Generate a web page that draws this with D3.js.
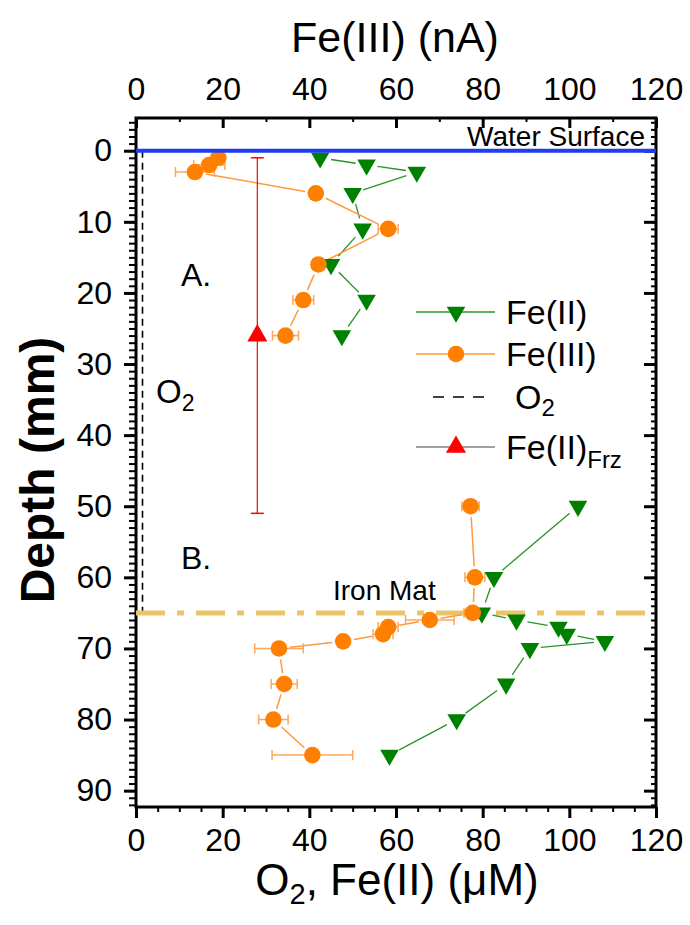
<!DOCTYPE html>
<html><head><meta charset="utf-8">
<script src="https://cdn.jsdelivr.net/npm/d3@7"></script>
<style>body{margin:0;background:#fff} svg{display:block;font-family:"Liberation Sans",Arial,sans-serif}</style>
</head><body><svg id="c" width="690" height="925"></svg>
<script>
// ---- data ----
const xTicks=[0,20,40,60,80,100,120];
const yTicks=[0,10,20,30,40,50,60,70,80,90];
const fe2DepthA=[1,2,3,6,11,16,21,26];
const fe2ValueA=[42.5,53.2,64.8,50,52.3,45,53.2,47.5];
const fe2DepthB=[50,60,65,66,67,68,69,70,75,80,85];
const fe2ValueB=[102,82.6,79.8,87.8,97.5,99.4,108.2,90.9,85.4,74,58.5];
const fe3DepthA=[1,2,3,6,11,16,21,26];
const fe3ValueA=[19,16.9,13.6,41.5,58.2,42.1,38.6,34.5];
const fe3ErrA=[1,3.6,4.5,0,2.3,1.2,2.4,3];
const fe3DepthB=[50,60,65,66,67,68,69,70,75,80,85];
const fe3ValueB=[77.2,78.2,77.7,67.8,58.2,57,47.8,33,34.2,31.7,40.7];
const fe3ErrB=[2,2.3,2,5.6,2.3,2.3,0,5.6,3,3.4,9.3];
const frzDepth=[26], frzValue=[28], frzErr=[25];
const o2Depth=[0,65], o2Value=[1.5,1.5];
const waterDepth=0, ironMatDepth=65;
const legendLabels=["Fe(II)","Fe(III)","O","Fe(II)"];

// ---- setup ----
const svg=d3.select("#c");
const L=136,R=656,T=118,B=807;
const x=d3.scaleLinear([0,120],[L,R]);
const xTop=d3.scaleLinear([0,120],[L,R]);
const y=d3.scaleLinear([-4.6,92.3],[T,B]);
const GREEN="#008000",GLINE="#2a922a",ORANGE="#FF8000",OLINE="#FF9A3C",OERR="#FFA65A",RED="#FF0000";

function styleAxis(g,sw){g.select(".domain").remove();g.selectAll("line").attr("stroke","#000").attr("stroke-width",sw);g.selectAll("text").attr("fill","#000").attr("font-size",32);}
// minor ticks
svg.append("g").attr("transform",`translate(0,${B})`).call(d3.axisBottom(x).tickValues(d3.range(0,121,5)).tickSize(5).tickFormat("")).call(g=>styleAxis(g,2));
svg.append("g").attr("transform",`translate(0,${T})`).call(d3.axisTop(xTop).tickValues(d3.range(0,121,10)).tickSize(-4).tickFormat("")).call(g=>styleAxis(g,2));
svg.append("g").attr("transform",`translate(${L},0)`).call(d3.axisLeft(y).tickValues(d3.range(-4,93,1)).tickSize(7).tickFormat("")).call(g=>styleAxis(g,2));
svg.append("g").attr("transform",`translate(${R},0)`).call(d3.axisRight(y).tickValues(d3.range(-4,93,1)).tickSize(-5).tickFormat("")).call(g=>styleAxis(g,2));
// major ticks
svg.append("g").attr("transform",`translate(0,${B})`).call(d3.axisBottom(x).tickValues(xTicks).tickSize(11).tickPadding(10)).call(g=>styleAxis(g,3));
svg.append("g").attr("transform",`translate(0,${T})`).call(d3.axisTop(xTop).tickValues(xTicks).tickSizeInner(-10).tickSizeOuter(0).tickPadding(18)).call(g=>styleAxis(g,3));
svg.append("g").attr("transform",`translate(${L},0)`).call(d3.axisLeft(y).tickValues(yTicks).tickSize(12).tickPadding(12)).call(g=>styleAxis(g,3));
svg.append("g").attr("transform",`translate(${R},0)`).call(d3.axisRight(y).tickValues(yTicks).tickSize(-12).tickFormat("")).call(g=>styleAxis(g,3));
// frame
svg.append("rect").attr("x",L).attr("y",T).attr("width",R-L).attr("height",B-T).attr("fill","none").attr("stroke","#000").attr("stroke-width",3);

// titles
svg.append("text").attr("x",395).attr("y",52).attr("text-anchor","middle").attr("font-size",43).text("Fe(III) (nA)");
const bt=svg.append("text").attr("x",397).attr("y",895).attr("text-anchor","middle").attr("font-size",44);
bt.append("tspan").text("O");bt.append("tspan").attr("font-size",29).attr("dy",9).text("2");bt.append("tspan").attr("dy",-9).text(", Fe(II) (μM)");
svg.append("text").attr("transform","translate(54,470) rotate(-90)").attr("text-anchor","middle").attr("font-size",48).attr("font-weight","bold").text("Depth (mm)");

// O2 dashed
const o2pts=o2Depth.map((d,i)=>[x(o2Value[i]),y(d)]);
svg.append("path").attr("d",d3.line()(o2pts)).attr("stroke","#000").attr("stroke-width",1.6).attr("stroke-dasharray","7,5").attr("fill","none");
// iron mat
svg.append("line").attr("x1",L).attr("x2",R).attr("y1",y(ironMatDepth)).attr("y2",y(ironMatDepth)).attr("stroke","#ECC468").attr("stroke-width",5).attr("stroke-dasharray","29,12,7,12");

// gapped connecting lines
function gapLines(pts,color,w,gap){
  for(let i=0;i<pts.length-1;i++){
    const [x1,y1]=pts[i],[x2,y2]=pts[i+1];const dx=x2-x1,dy=y2-y1,len=Math.hypot(dx,dy);
    if(len<=2*gap)continue;const ux=dx/len,uy=dy/len;
    svg.append("line").attr("x1",x1+ux*gap).attr("y1",y1+uy*gap).attr("x2",x2-ux*gap).attr("y2",y2-uy*gap).attr("stroke",color).attr("stroke-width",w);
  }
}
const fe2A=fe2DepthA.map((d,i)=>[x(fe2ValueA[i]),y(d)]);
const fe2B=fe2DepthB.map((d,i)=>[x(fe2ValueB[i]),y(d)]);
const fe3A=fe3DepthA.map((d,i)=>[xTop(fe3ValueA[i]),y(d)]);
const fe3B=fe3DepthB.map((d,i)=>[xTop(fe3ValueB[i]),y(d)]);
gapLines(fe2A,GLINE,1.3,11);gapLines(fe2B,GLINE,1.3,11);
gapLines(fe3A,OLINE,1.5,11);gapLines(fe3B,OLINE,1.5,11);

// error bars Fe(III) (horizontal)
function hErr(depths,vals,errs){
  depths.forEach((d,i)=>{const e=errs[i];if(!e)return;const yy=y(d),x1=xTop(vals[i]-e),x2=xTop(vals[i]+e);
    svg.append("line").attr("x1",x1).attr("x2",x2).attr("y1",yy).attr("y2",yy).attr("stroke",OERR).attr("stroke-width",1.5);
    [x1,x2].forEach(xx=>svg.append("line").attr("x1",xx).attr("x2",xx).attr("y1",yy-5).attr("y2",yy+5).attr("stroke",OERR).attr("stroke-width",1.5));});
}
hErr(fe3DepthA,fe3ValueA,fe3ErrA);hErr(fe3DepthB,fe3ValueB,fe3ErrB);
// Frz vertical error bar
frzDepth.forEach((d,i)=>{const xx=x(frzValue[i]),y1=y(d-frzErr[i]),y2=y(d+frzErr[i]);
  svg.append("line").attr("x1",xx).attr("x2",xx).attr("y1",y1).attr("y2",y2).attr("stroke",RED).attr("stroke-width",1.2);
  [y1,y2].forEach(yy=>svg.append("line").attr("x1",xx-6.5).attr("x2",xx+6.5).attr("y1",yy).attr("y2",yy).attr("stroke",RED).attr("stroke-width",1.5));});

// markers
const triDown=d3.symbol(d3.symbolTriangle,150);
const triBig=d3.symbol(d3.symbolTriangle,175);
function drawTri(pts,color,down,sym){pts.forEach(p=>svg.append("path").attr("d",sym()).attr("transform",`translate(${p[0]},${p[1]}) rotate(${down?180:0})`).attr("fill",color));}
drawTri(fe2A,GREEN,true,triDown);drawTri(fe2B,GREEN,true,triDown);
fe3A.concat(fe3B).forEach(p=>svg.append("circle").attr("cx",p[0]).attr("cy",p[1]).attr("r",8.3).attr("fill",ORANGE));
drawTri(frzDepth.map((d,i)=>[x(frzValue[i]),y(d)]),RED,false,triBig);

// water surface
svg.append("line").attr("x1",L).attr("x2",R).attr("y1",y(waterDepth)).attr("y2",y(waterDepth)).attr("stroke","#1f3cf5").attr("stroke-width",4);

// annotations
svg.append("text").attr("x",645).attr("y",146).attr("text-anchor","end").attr("font-size",28).text("Water Surface");
svg.append("text").attr("x",333).attr("y",600).attr("font-size",28).text("Iron Mat");
svg.append("text").attr("x",181).attr("y",286).attr("font-size",32).text("A.");
svg.append("text").attr("x",181).attr("y",569).attr("font-size",32).text("B.");
const o2t=svg.append("text").attr("x",156).attr("y",403).attr("font-size",33);
o2t.append("tspan").text("O");o2t.append("tspan").attr("font-size",23).attr("dy",8).text("2");

// legend
const rows=[312,354,397,447];
const lg=svg.append("g");
lg.append("line").attr("x1",416).attr("x2",495).attr("y1",rows[0]).attr("y2",rows[0]).attr("stroke",GLINE).attr("stroke-width",1.3);
lg.append("path").attr("d",triDown()).attr("transform",`translate(456,${rows[0]}) rotate(180)`).attr("fill",GREEN);
lg.append("text").attr("x",506).attr("y",rows[0]+12).attr("font-size",34).text(legendLabels[0]);
lg.append("line").attr("x1",416).attr("x2",495).attr("y1",rows[1]).attr("y2",rows[1]).attr("stroke",OLINE).attr("stroke-width",1.5);
lg.append("circle").attr("cx",456).attr("cy",rows[1]).attr("r",8.3).attr("fill",ORANGE);
lg.append("text").attr("x",506).attr("y",rows[1]+12).attr("font-size",34).text(legendLabels[1]);
lg.append("line").attr("x1",433).attr("x2",486).attr("y1",rows[2]).attr("y2",rows[2]).attr("stroke","#000").attr("stroke-width",1.6).attr("stroke-dasharray","11,9");
const lo=lg.append("text").attr("x",515).attr("y",rows[2]+12).attr("font-size",34);
lo.append("tspan").text(legendLabels[2]);lo.append("tspan").attr("font-size",24).attr("dy",7).text("2");
lg.append("line").attr("x1",416).attr("x2",495).attr("y1",rows[3]).attr("y2",rows[3]).attr("stroke","#444").attr("stroke-width",1);
lg.append("path").attr("d",triBig()).attr("transform",`translate(456,${rows[3]})`).attr("fill",RED);
const lf=lg.append("text").attr("x",506).attr("y",rows[3]+12).attr("font-size",34);
lf.append("tspan").text(legendLabels[3]);lf.append("tspan").attr("font-size",24).attr("dy",9).text("Frz");
</script></body></html>
